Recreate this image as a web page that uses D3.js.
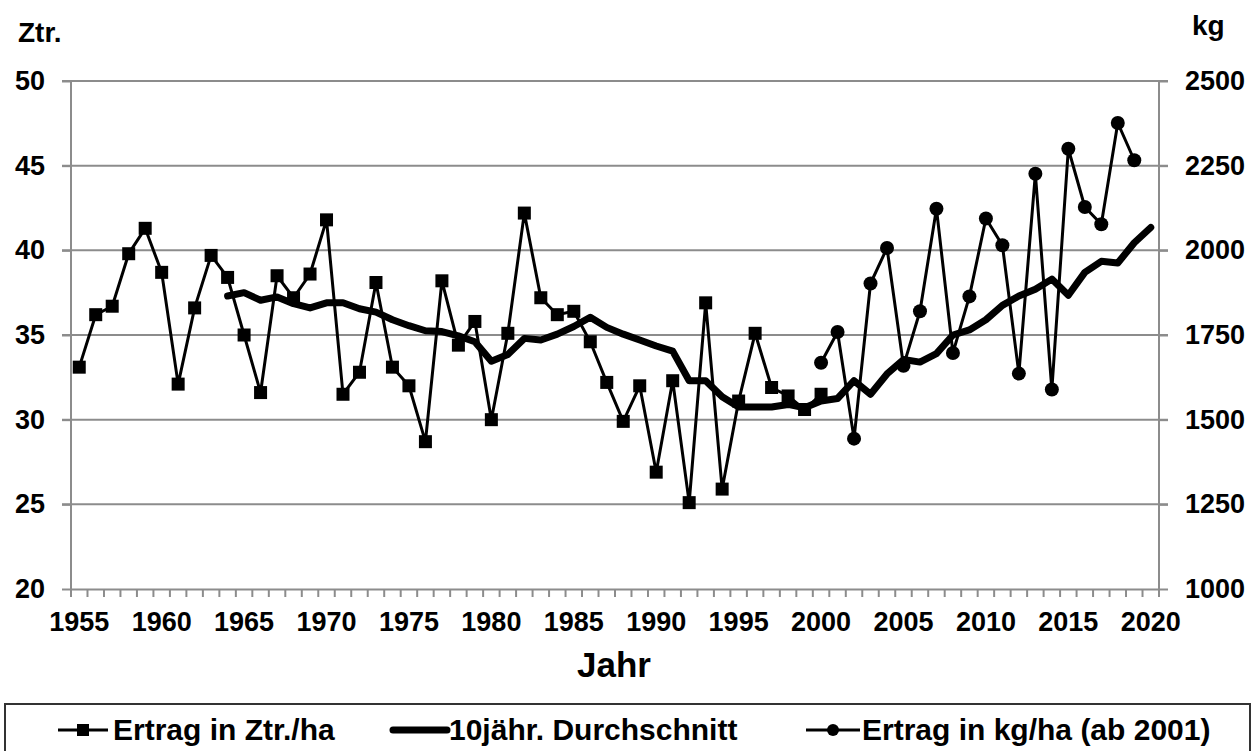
<!DOCTYPE html>
<html>
<head>
<meta charset="utf-8">
<script src="https://cdn.jsdelivr.net/npm/d3@7"></script>
<style>
  body { margin: 0; background: #fff; }
  text { font-family: "Liberation Sans", Arial, sans-serif; font-weight: bold; fill: #000; }
</style>
</head>
<body>
<div id="chart"></div>
<script>
// years on the category axis
var years = d3.range(1955, 2021);

// Ertrag in Ztr./ha, 1955 - 2000
var ztrYears = d3.range(1955, 2001);
var ztrValues = [33.1, 36.2, 36.7, 39.8, 41.3, 38.7, 32.1, 36.6, 39.7, 38.4,
                 35.0, 31.6, 38.5, 37.2, 38.6, 41.8, 31.5, 32.8, 38.1, 33.1,
                 32.0, 28.7, 38.2, 34.4, 35.8, 30.0, 35.1, 42.2, 37.2, 36.2,
                 36.4, 34.6, 32.2, 29.9, 32.0, 26.9, 32.3, 25.1, 36.9, 25.9,
                 31.1, 35.1, 31.9, 31.4, 30.6, 31.5];

// Ertrag in kg/ha (ab 2001), drawn from 2000 - 2019
var kgYears = d3.range(2000, 2020);
var kgValues = [1668, 1759, 1444, 1902, 2007, 1659, 1820, 2123, 1697, 1864,
                2094, 2015, 1636, 2226, 1589, 2300, 2128, 2077, 2376, 2266];

// 10jaehr. Durchschnitt (Ztr.), 1964 - 2020
var avgYears = d3.range(1964, 2021);
var avgValues = [37.3, 37.5, 37.05, 37.25, 36.85, 36.6, 36.9, 36.9, 36.55, 36.35,
                 35.9, 35.55, 35.25, 35.2, 34.95, 34.6, 33.45, 33.85, 34.8, 34.7,
                 35.05, 35.5, 36.05, 35.45, 35.05, 34.7, 34.35, 34.05, 32.3, 32.3,
                 31.35, 30.75, 30.75, 30.75, 30.9, 30.7, 31.1, 31.25, 32.3, 31.5,
                 32.7, 33.55, 33.4, 33.9, 35.0, 35.3, 35.9, 36.75, 37.3, 37.7,
                 38.3, 37.35, 38.7, 39.35, 39.25, 40.45, 41.35];

var leftTicks = [20, 25, 30, 35, 40, 45, 50];
var rightTicks = [1000, 1250, 1500, 1750, 2000, 2250, 2500];
var yearLabels = [1955, 1960, 1965, 1970, 1975, 1980, 1985, 1990, 1995, 2000, 2005, 2010, 2015, 2020];

var width = 1256,
    height = 751;
var plotLeft = 71, plotRight = 1159, plotTop = 81, plotBottom = 589;

var svg = d3.select('#chart').append('svg')
    .attr('width', width)
    .attr('height', height);

var x = d3.scaleBand().domain(years).range([plotLeft, plotRight]);
var y = d3.scaleLinear().domain([20, 50]).range([plotBottom, plotTop]);
var y2 = d3.scaleLinear().domain([1000, 2500]).range([plotBottom, plotTop]);
function cx(yr) { return x(yr) + x.bandwidth() / 2; }

// gridlines
svg.append('g').selectAll('line')
    .data(leftTicks.filter(function(d) { return d > 20; }))
    .enter().append('line')
    .attr('x1', plotLeft - 9).attr('x2', plotRight + 9)
    .attr('y1', function(d) { return y(d); })
    .attr('y2', function(d) { return y(d); })
    .style('stroke', '#8c8c8c')
    .style('stroke-width', 2);

// left axis
var gl = svg.append('g').attr('transform', 'translate(' + plotLeft + ',0)')
    .call(d3.axisLeft(y).tickValues(leftTicks).tickSize(9).tickPadding(17));
// right axis
var gr = svg.append('g').attr('transform', 'translate(' + plotRight + ',0)')
    .call(d3.axisRight(y2).tickValues(rightTicks).tickFormat(d3.format('d'))
        .tickSize(9).tickPadding(17));
// bottom axis, one tick per category border
var gb = svg.append('g').attr('transform', 'translate(0,' + plotBottom + ')')
    .call(d3.axisBottom(x).tickValues(yearLabels).tickSize(0).tickPadding(23));
gb.append('g').selectAll('line')
    .data(years.concat([2021]))
    .enter().append('line')
    .attr('x1', function(d) { return d === 2021 ? plotRight : x(d); })
    .attr('x2', function(d) { return d === 2021 ? plotRight : x(d); })
    .attr('y1', 0).attr('y2', 8)
    .style('stroke', '#8c8c8c')
    .style('stroke-width', 2);

[gl, gr, gb].forEach(function(g) {
    g.select('.domain').style('stroke', '#8c8c8c').style('stroke-width', 2);
    g.selectAll('.tick line').style('stroke', '#8c8c8c').style('stroke-width', 2);
    g.selectAll('.tick text')
        .style('font-family', '"Liberation Sans", Arial, sans-serif')
        .style('font-weight', 'bold')
        .style('font-size', '27px')
        .style('fill', '#000');
});
gl.select('.domain').attr('d', 'M0,' + plotBottom + 'V' + plotTop);
gr.select('.domain').attr('d', 'M0,' + plotBottom + 'V' + plotTop);

// unit labels
svg.append('text').attr('x', 18).attr('y', 42).style('font-size', '28px').text('Ztr.');
svg.append('text').attr('x', 1192).attr('y', 35).style('font-size', '28px').text('kg');
svg.append('text').attr('x', 614).attr('y', 677).attr('text-anchor', 'middle')
    .style('font-size', '35px').text('Jahr');

var lineZtr = d3.line()
    .x(function(d, i) { return cx(ztrYears[i]); })
    .y(function(d) { return y(d); });
var lineKg = d3.line()
    .x(function(d, i) { return cx(kgYears[i]); })
    .y(function(d) { return y2(d); });
var lineAvg = d3.line()
    .x(function(d, i) { return cx(avgYears[i]); })
    .y(function(d) { return y(d); });

// Ertrag Ztr./ha
svg.append('path').datum(ztrValues)
    .attr('d', lineZtr)
    .style('fill', 'none').style('stroke', '#000').style('stroke-width', 3);
svg.append('g').selectAll('rect')
    .data(ztrValues).enter().append('rect')
    .attr('x', function(d, i) { return cx(ztrYears[i]) - 6.5; })
    .attr('y', function(d) { return y(d) - 6.5; })
    .attr('width', 13).attr('height', 13)
    .style('fill', '#000');

// 10jaehr. Durchschnitt
svg.append('path').datum(avgValues)
    .attr('d', lineAvg)
    .style('fill', 'none').style('stroke', '#000').style('stroke-width', 7)
    .style('stroke-linecap', 'round').style('stroke-linejoin', 'round');

// Ertrag kg/ha
svg.append('path').datum(kgValues)
    .attr('d', lineKg)
    .style('fill', 'none').style('stroke', '#000').style('stroke-width', 3);
svg.append('g').selectAll('circle')
    .data(kgValues).enter().append('circle')
    .attr('cx', function(d, i) { return cx(kgYears[i]); })
    .attr('cy', function(d) { return y2(d); })
    .attr('r', 7)
    .style('fill', '#000');

// legend
var legend = svg.append('g');
legend.append('rect')
    .attr('x', 5).attr('y', 704).attr('width', 1245).attr('height', 60)
    .style('fill', 'none').style('stroke', '#333').style('stroke-width', 2);

var ly = 730;
legend.append('line').attr('x1', 58).attr('x2', 108).attr('y1', ly).attr('y2', ly)
    .style('stroke', '#000').style('stroke-width', 3);
legend.append('rect').attr('x', 77).attr('y', ly - 6).attr('width', 12).attr('height', 12)
    .style('fill', '#000');
legend.append('text').attr('x', 113).attr('y', ly + 10).style('font-size', '30px')
    .text('Ertrag in Ztr./ha');

legend.append('line').attr('x1', 393).attr('x2', 447).attr('y1', ly).attr('y2', ly)
    .style('stroke', '#000').style('stroke-width', 7).style('stroke-linecap', 'round');
legend.append('text').attr('x', 449).attr('y', ly + 10).style('font-size', '30px')
    .text('10jähr. Durchschnitt');

legend.append('line').attr('x1', 806).attr('x2', 860).attr('y1', ly).attr('y2', ly)
    .style('stroke', '#000').style('stroke-width', 3);
legend.append('circle').attr('cx', 833).attr('cy', ly).attr('r', 6)
    .style('fill', '#000');
legend.append('text').attr('x', 862).attr('y', ly + 10).style('font-size', '30px')
    .text('Ertrag in kg/ha (ab 2001)');
</script>
</body>
</html>
